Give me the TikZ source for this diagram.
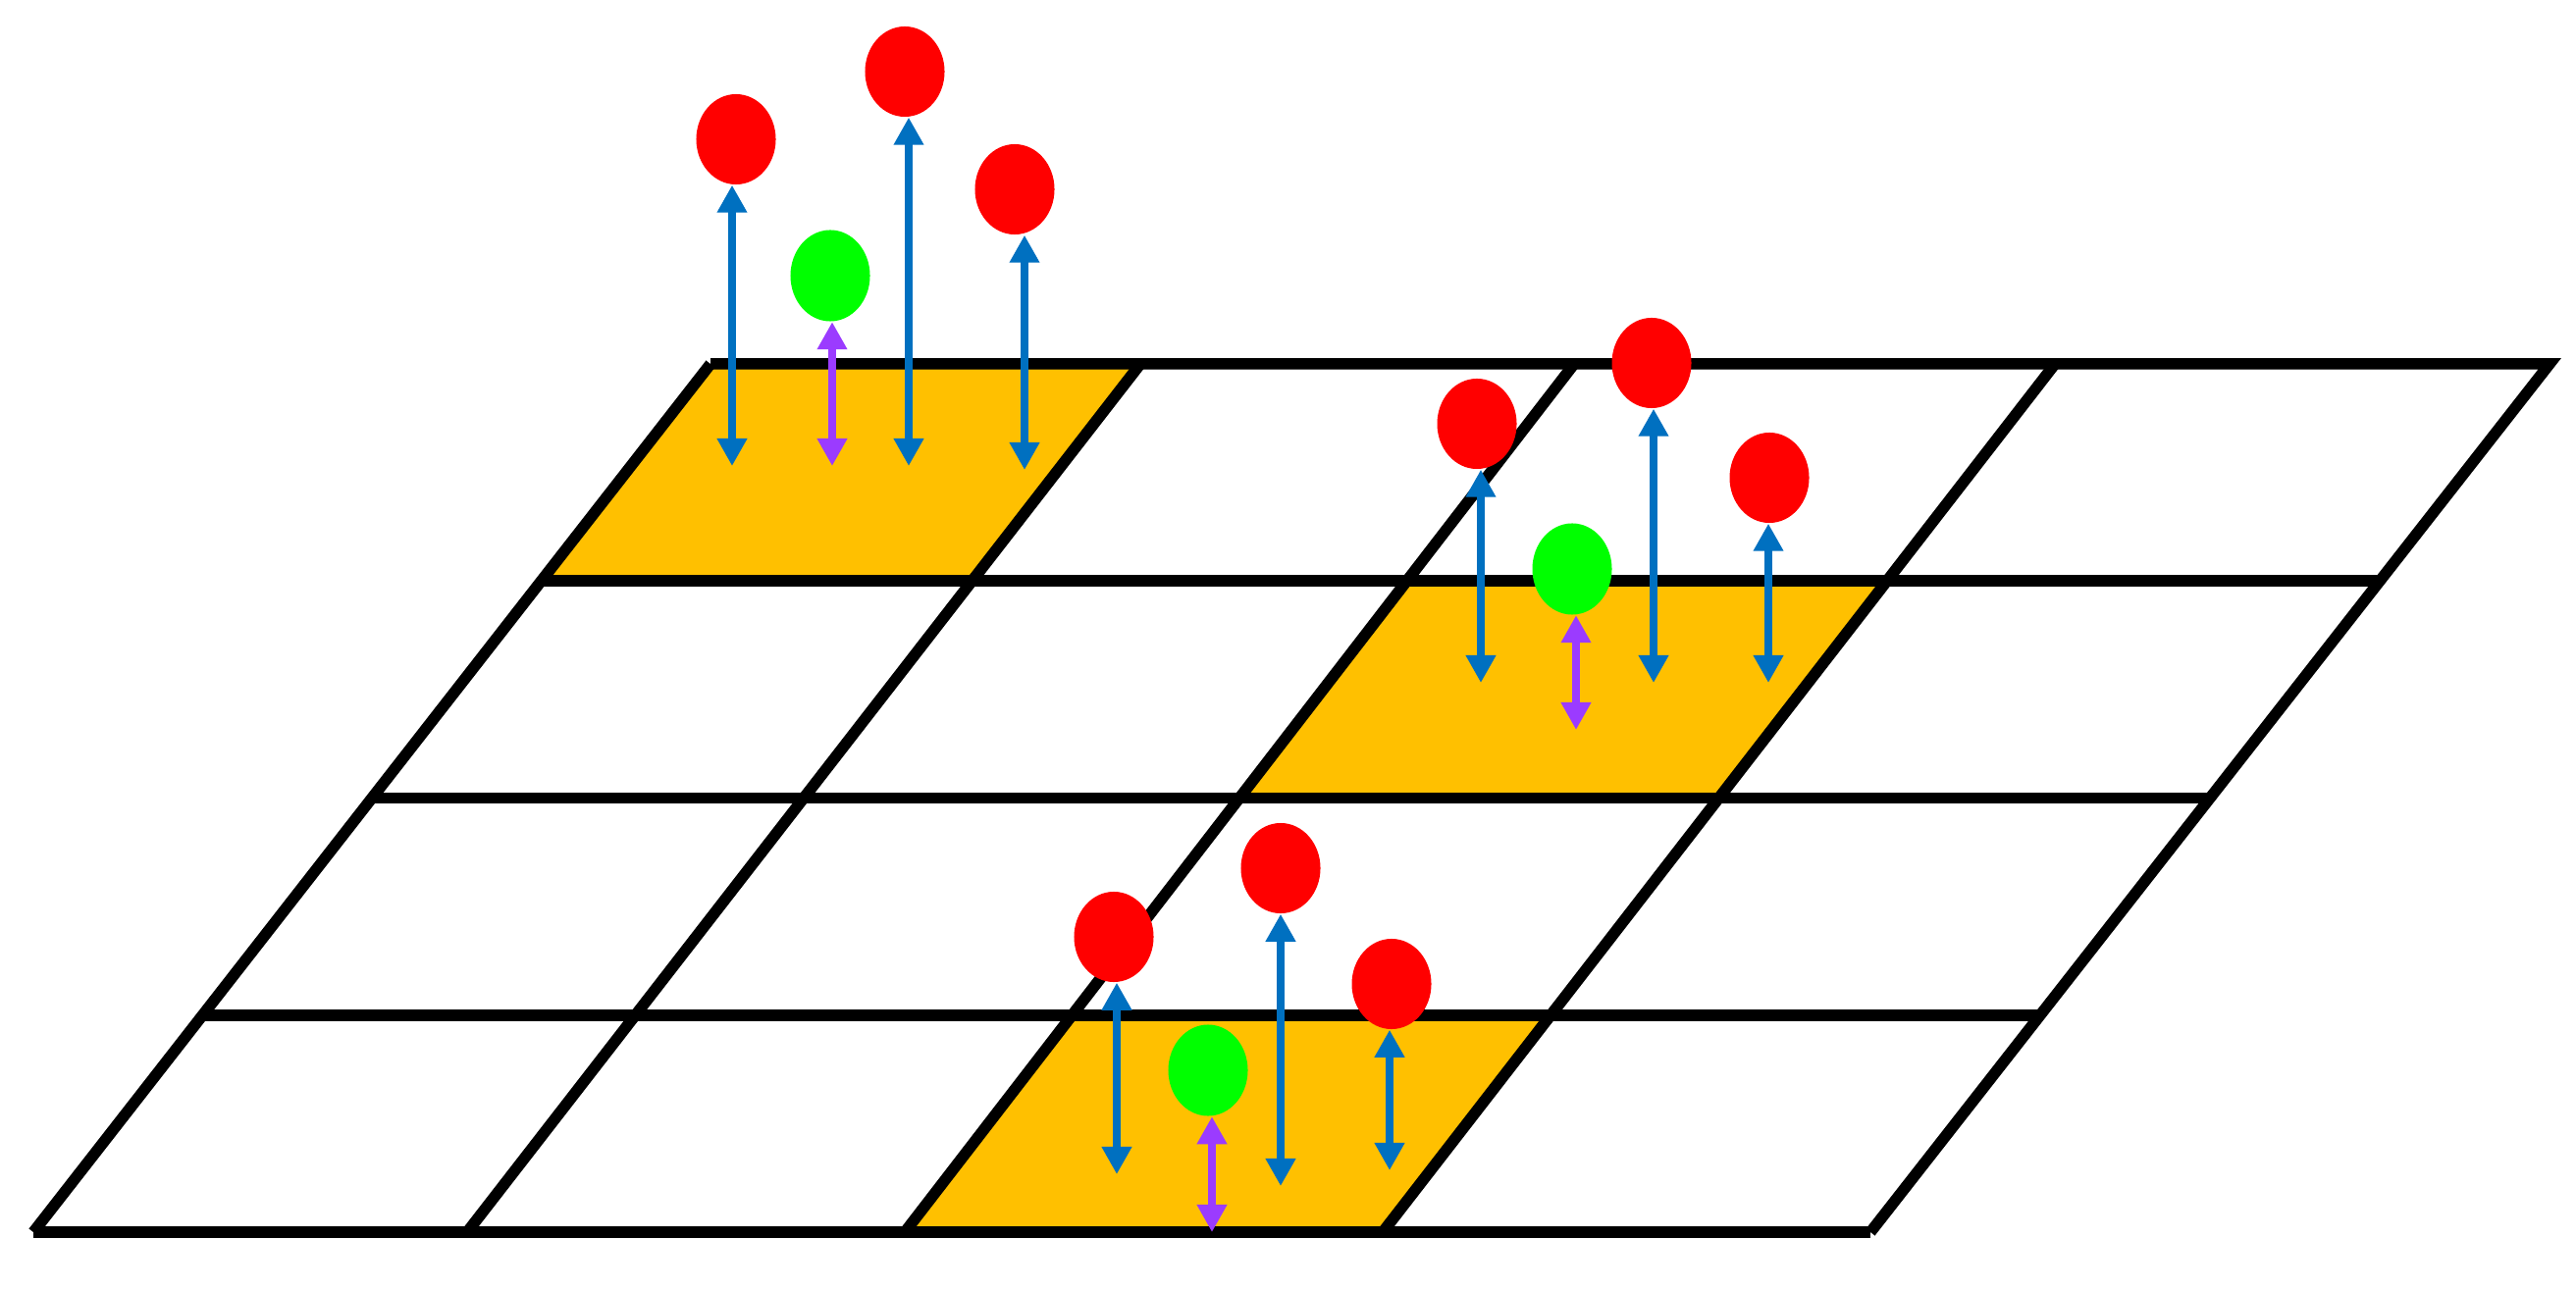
\documentclass[tikz,border=0pt]{standalone}
\usetikzlibrary{shapes.geometric,arrows.meta,calc}
\definecolor{cellfill}{HTML}{FFC000}
\definecolor{arrblue}{HTML}{0070C0}
\definecolor{arrpurple}{HTML}{9B3BFF}
\definecolor{ballred}{HTML}{FF0000}
\definecolor{ballgreen}{HTML}{00FF00}
\begin{document}
\begin{tikzpicture}[x=0.01cm,y=-0.01cm,
  gridline/.style={line width=0.115cm, black, line join=miter},
  cell/.style={fill=cellfill},
  redball/.style={ellipse, fill=ballred, minimum width=0.81cm, minimum height=0.92cm, inner sep=0pt},
  greenball/.style={ellipse, fill=ballgreen, minimum width=0.81cm, minimum height=0.93cm, inner sep=0pt},
  barrow/.style={draw=arrblue, line width=0.08cm, {Triangle[width=0.29cm,length=0.28cm]}-{Triangle[width=0.29cm,length=0.28cm]}},
  parrow/.style={draw=arrpurple, line width=0.08cm, {Triangle[width=0.29cm,length=0.28cm]}-{Triangle[width=0.29cm,length=0.28cm]}}
]
\useasboundingbox (0,0) rectangle (2625,1316);
\fill[white] (0,0) rectangle (2625,1316);
% grid vertices
\foreach \c/\tx/\bx in {0/724/34, 1/1162/476, 2/1604/922, 3/2094/1409, 4/2598/1906} {
  \coordinate (t\c) at (\tx,371);
  \coordinate (b\c) at (\bx,1256);
  \foreach \r in {0,1,2,3,4} \coordinate (v\r\c) at ($(t\c)!\r/4!(b\c)$);
}
% highlighted cells
\fill[cell] (v00) -- (v01) -- (v11) -- (v10) -- cycle;
\fill[cell] (v12) -- (v13) -- (v23) -- (v22) -- cycle;
\fill[cell] (v32) -- (v33) -- (v43) -- (v42) -- cycle;
% grid lines
\draw[gridline] (v00) -- (v04) -- (v44);
\draw[gridline] (v00) -- (v40);
\foreach \r in {1,2,3,4} \draw[gridline] (v\r0) -- (v\r4);
\foreach \c in {1,2,3} \draw[gridline] (v0\c) -- (v4\c);

% group 1
\node[redball] (r11) at (750,142) {};
\node[redball] (r12) at (922,73) {};
\node[redball] (r13) at (1034,193) {};
\node[greenball] (g1) at (846,281) {};
\coordinate (a11) at (746,475);
\coordinate (a12) at (926,475);
\coordinate (a13) at (1044,479);
\coordinate (p1) at (848,475);
\draw[barrow] (r11.south -| a11) -- (a11);
\draw[barrow] (r12.south -| a12) -- (a12);
\draw[barrow] (r13.south -| a13) -- (a13);
\draw[parrow] (g1.south -| p1) -- (p1);

% group 2
\node[redball] (r21) at (1505,432) {};
\node[redball] (r22) at (1683,370) {};
\node[redball] (r23) at (1803,487) {};
\node[greenball] (g2) at (1602,580) {};
\coordinate (a21) at (1509,696);
\coordinate (a22) at (1685,696);
\coordinate (a23) at (1802,696);
\coordinate (p2) at (1606,744);
\draw[barrow] (r21.south -| a21) -- (a21);
\draw[barrow] (r22.south -| a22) -- (a22);
\draw[barrow] (r23.south -| a23) -- (a23);
\draw[parrow] (g2.south -| p2) -- (p2);

% group 3
\node[redball] (r31) at (1135,955) {};
\node[redball] (r32) at (1305,885) {};
\node[redball] (r33) at (1418,1003) {};
\node[greenball] (g3) at (1231,1091) {};
\coordinate (a31) at (1138,1197);
\coordinate (a32) at (1305,1209);
\coordinate (a33) at (1416,1193);
\coordinate (p3) at (1235,1256);
\draw[barrow] (r31.south -| a31) -- (a31);
\draw[barrow] (r32.south -| a32) -- (a32);
\draw[barrow] (r33.south -| a33) -- (a33);
\draw[parrow] (g3.south -| p3) -- (p3);
\end{tikzpicture}
\end{document}
